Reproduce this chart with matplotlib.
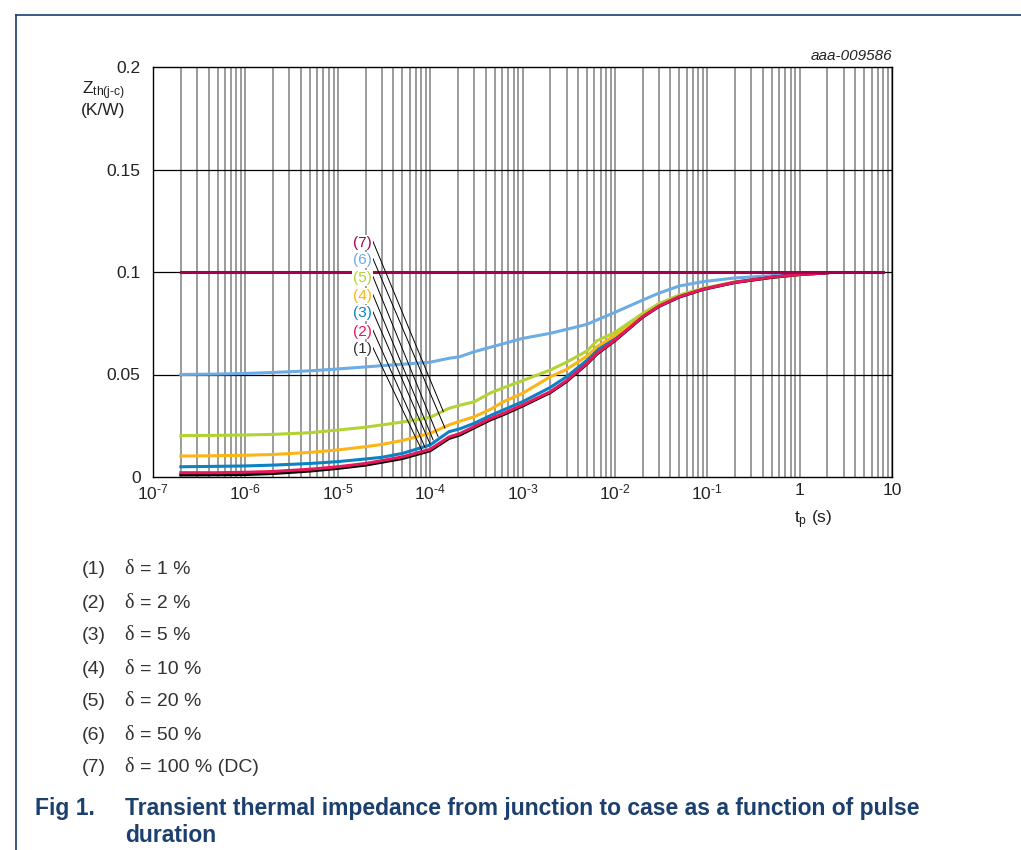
import matplotlib
matplotlib.use("Agg")
import matplotlib.pyplot as plt
from matplotlib.ticker import FixedLocator, NullFormatter

plt.rcParams['font.family'] = ['Liberation Sans', 'DejaVu Sans']
plt.rcParams['mathtext.fontset'] = 'custom'
plt.rcParams['mathtext.rm'] = 'Liberation Sans'
plt.rcParams['mathtext.it'] = 'Liberation Sans:italic'
plt.rcParams['mathtext.bf'] = 'Liberation Sans:bold'

# ---------------- data ----------------
t_s = [2e-7, 5e-7, 1e-6, 2e-6, 5e-6, 1e-5, 2e-5, 3e-5, 5e-5, 1e-4, 1.6e-4, 2.1e-4,
       3e-4, 4.5e-4, 6.2e-4, 1e-3, 2e-3, 3e-3, 5e-3, 6.4e-3, 1e-2, 2e-2, 3e-2,
       5e-2, 9e-2, 0.2, 0.5, 1.0, 2.0]

z_d1 = [0.0010, 0.0011, 0.0012, 0.0017, 0.0029, 0.0042, 0.0058, 0.0072, 0.0090,
        0.0128, 0.0188, 0.0205, 0.0240, 0.0279, 0.0304, 0.0346, 0.0412, 0.0466,
        0.0552, 0.0600, 0.0665, 0.0780, 0.0832, 0.0878, 0.0915, 0.0949, 0.0974,
        0.0988, 0.0996]
z_d2 = [0.0021, 0.0021, 0.0023, 0.0027, 0.0038, 0.0050, 0.0066, 0.0080, 0.0098,
        0.0135, 0.0195, 0.0212, 0.0246, 0.0285, 0.0310, 0.0351, 0.0416, 0.0470,
        0.0555, 0.0603, 0.0668, 0.0782, 0.0834, 0.0880, 0.0916, 0.0950, 0.0975,
        0.0988, 0.0996]
z_d5 = [0.0050, 0.0052, 0.0054, 0.0058, 0.0066, 0.0075, 0.0088, 0.0096, 0.0115,
        0.0156, 0.0221, 0.0235, 0.0262, 0.0300, 0.0327, 0.0367, 0.0437, 0.0489,
        0.0570, 0.0620, 0.0680, 0.0785, 0.0836, 0.0881, 0.0917, 0.0950, 0.0974,
        0.0987, 0.0996]
z_d10 = [0.0102, 0.0104, 0.0106, 0.0110, 0.0120, 0.0132, 0.0148, 0.0159, 0.0178,
         0.0213, 0.0254, 0.0272, 0.0294, 0.0330, 0.0367, 0.0408, 0.0489, 0.0525,
         0.0590, 0.0636, 0.0690, 0.0790, 0.0839, 0.0883, 0.0918, 0.0950, 0.0974,
         0.0987, 0.0996]
z_d20 = [0.0202, 0.0203, 0.0205, 0.0208, 0.0216, 0.0229, 0.0243, 0.0254, 0.0268,
         0.0291, 0.0335, 0.0350, 0.0367, 0.0410, 0.0435, 0.0470, 0.0522, 0.0560,
         0.0615, 0.0665, 0.0705, 0.0798, 0.0846, 0.0888, 0.0920, 0.0952, 0.0975,
         0.0988, 0.0996]
z_d50 = [0.0500, 0.0502, 0.0505, 0.0510, 0.0518, 0.0527, 0.0537, 0.0543, 0.0550,
         0.0560, 0.0579, 0.0587, 0.0611, 0.0633, 0.0650, 0.0676, 0.0701, 0.0720,
         0.0745, 0.0766, 0.0803, 0.0863, 0.0897, 0.0932, 0.0953, 0.0971, 0.0982,
         0.0990, 0.0997]
t_dc = [2e-7, 8.0]
z_dc = [0.1, 0.1]

curve_ids = ["(1)", "(2)", "(3)", "(4)", "(5)", "(6)", "(7)"]
duty_values = ["= 1 %", "= 2 %", "= 5 %", "= 10 %", "= 20 %", "= 50 %", "= 100 % (DC)"]
y_ticks = [0, 0.05, 0.1, 0.15, 0.2]
y_tick_labels = ["0", "0.05", "0.1", "0.15", "0.2"]
x_ticks = [1e-7, 1e-6, 1e-5, 1e-4, 1e-3, 1e-2, 1e-1, 1, 10]
x_tick_labels = ["10$^{\\text{-7}}$", "10$^{\\text{-6}}$", "10$^{\\text{-5}}$",
                 "10$^{\\text{-4}}$", "10$^{\\text{-3}}$", "10$^{\\text{-2}}$",
                 "10$^{\\text{-1}}$", "1", "10"]

# leader-line targets (t, Z) for labels (1)..(7)
lead_t = [8.1e-5, 8.8e-5, 1.0e-4, 1.08e-4, 1.22e-4, 1.45e-4, 1.39e-4]
lead_z = [0.0132, 0.0145, 0.0161, 0.0180, 0.0197, 0.0238, 0.0319]

colors = ["#000000", "#e8175d", "#0a82c4", "#fdb515", "#b3d335", "#6cace4", "#a3004f"]
label_colors = ["#333333", "#e8175d", "#0a82c4", "#fdb515", "#b3d335", "#6cace4", "#a3004f"]

# ---------------- figure ----------------
W, H = 1021, 850
fig = plt.figure(figsize=(W / 100, H / 100), dpi=100)
ax = fig.add_axes([153 / W, 1 - 477 / H, (892 - 153) / W, (477 - 67) / H])
ax.set_xscale("log")
ax.set_xlim(1e-7, 10)
ax.set_ylim(0, 0.2)

# grid
minor = [m * 10.0 ** e for e in range(-7, 1) for m in range(2, 10)]
for xv in minor + x_ticks:
    ax.axvline(xv, color="#808080", lw=1.1, zorder=1)
for yv in y_ticks[1:-1]:
    ax.axhline(yv, color="black", lw=0.9, zorder=1)

series = [z_d1, z_d2, z_d5, z_d10, z_d20, z_d50]
for i, z in enumerate(series):
    ax.plot(t_s, z, color=colors[i], lw=2.2, zorder=3 + (0 if i > 1 else 1))
ax.plot(t_dc, z_dc, color=colors[6], lw=2.2, zorder=5)

# curve labels with leader lines
label_t = 2.35e-5
label_z = [0.0623, 0.0709, 0.0799, 0.0883, 0.0972, 0.1059, 0.1143]
for i in range(7):
    ax.annotate(curve_ids[i], xy=(lead_t[i], lead_z[i]), xytext=(label_t, label_z[i]),
                ha="right", va="center", fontsize=11, color=label_colors[i],
                bbox=dict(boxstyle="square,pad=0.05", fc="white", ec="none"),
                arrowprops=dict(arrowstyle="-", color="black", lw=0.7,
                                shrinkA=0, shrinkB=0, relpos=(1.0, 0.75)),
                zorder=6)

ax.xaxis.set_major_locator(FixedLocator(x_ticks))
ax.xaxis.set_minor_locator(FixedLocator(minor))
ax.xaxis.set_minor_formatter(NullFormatter())
ax.set_xticklabels(x_tick_labels)
ax.set_yticks(y_ticks)
ax.set_yticklabels(y_tick_labels)
ax.tick_params(which="both", length=0, labelsize=12.5, colors="#222222")
ax.tick_params(axis="y", pad=9)
ax.tick_params(axis="x", pad=4)
for s in ax.spines.values():
    s.set_color("black")
    s.set_linewidth(1.0)
    s.set_zorder(7)

# axis labels
fig.text(125 / W, 1 - 91 / H, "Z$_{\\mathrm{th(j\\text{-}c)}}$", ha="right", va="center",
         fontsize=12.5, color="#222222")
fig.text(125 / W, 1 - 111 / H, "(K/W)", ha="right", va="center", fontsize=12.5,
         color="#222222")
fig.text(813 / W, 1 - 520 / H, "t$_\\mathrm{p}$ (s)", ha="center", va="center",
         fontsize=12.5, color="#222222")
fig.text(892 / W, 1 - 56 / H, "aaa-009586", ha="right", va="center", fontsize=11,
         style="italic", color="#222222")

# legend text
for i in range(7):
    y = 1 - (570 + 33 * i) / H
    fig.text(82 / W, y, curve_ids[i], ha="left", va="center", fontsize=14, color="#333333")
    fig.text(124 / W, y, "\u03b4", ha="left", va="center", fontsize=14.5,
             family=["Liberation Serif", "DejaVu Serif"], color="#333333")
    fig.text(140 / W, y, duty_values[i], ha="left", va="center", fontsize=14, color="#333333")

# caption
cap_col = "#1b3f6e"
fig.text(35 / W, 1 - 808 / H, "Fig 1.", ha="left", va="center", fontsize=16.5,
         fontweight="bold", color=cap_col)
fig.text(125 / W, 1 - 808 / H,
         "Transient thermal impedance from junction to case as a function of pulse",
         ha="left", va="center", fontsize=16.5, fontweight="bold", color=cap_col)
fig.text(125 / W, 1 - 836 / H, "duration", ha="left", va="center", fontsize=16.5,
         fontweight="bold", color=cap_col)

# frame lines
fig.add_artist(plt.Line2D([16 / W, 16 / W], [0, 1 - 15 / H], color=cap_col, lw=1.2))
fig.add_artist(plt.Line2D([16 / W, 1.0], [1 - 15 / H, 1 - 15 / H], color=cap_col, lw=1.2))

fig.savefig("out.png", dpi=100)
